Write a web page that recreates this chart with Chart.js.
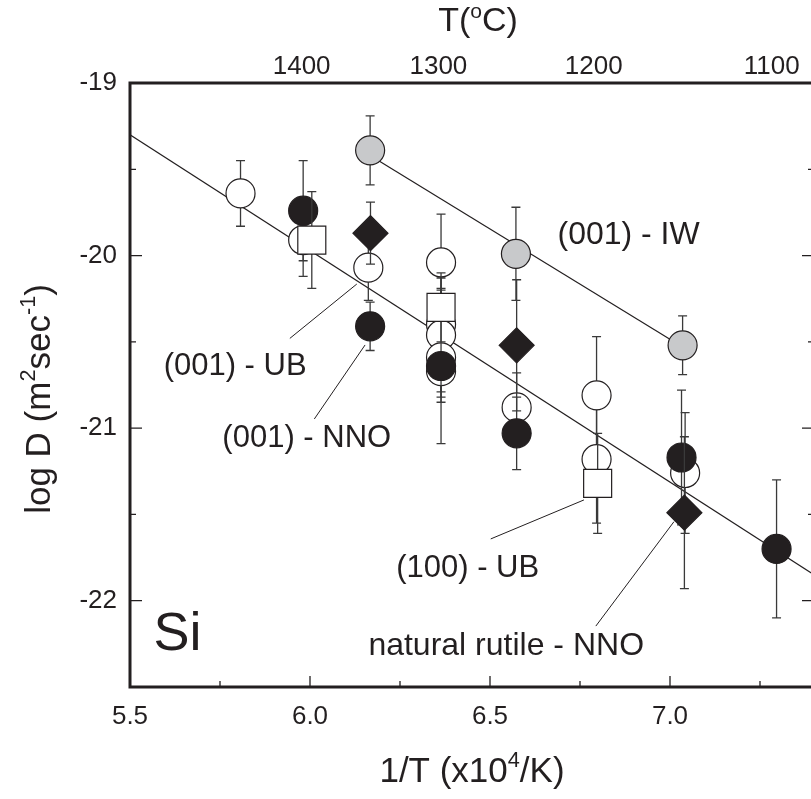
<!DOCTYPE html>
<html>
<head>
<meta charset="utf-8">
<script src="https://cdn.jsdelivr.net/npm/chart.js@4"></script>
<style>
html, body { margin: 0; padding: 0; overflow: hidden; background: #fff; }
</style>
</head>
<body>
<canvas id="myChart" width="840" height="799" style="display:block;width:840px;height:799px"></canvas>
<script>
// (001) - UB : open circles
const ubX = [5.807, 5.981, 6.162, 6.364, 6.364, 6.364, 6.364, 6.364, 6.574, 6.796, 6.796, 7.042];
const ubY = [-19.64, -19.91, -20.07, -20.04, -20.40, -20.46, -20.59, -20.67, -20.88, -20.81, -21.18, -21.26];
const ubErr = [0.19, 0.21, 0.19, 0.28, 0.20, 0.33, 0.26, 0.15, 0.20, 0.34, 0.37, 0.35];

// (001) - NNO : black circles
const nnoX = [5.981, 6.167, 6.364, 6.574, 7.032, 7.296];
const nnoY = [-19.74, -20.41, -20.64, -21.03, -21.17, -21.70];
const nnoErr = [0.29, 0.14, 0.45, 0.21, 0.39, 0.40];

// (001) - IW : grey circles
const iwX = [6.167, 6.572, 7.035];
const iwY = [-19.39, -19.99, -20.52];
const iwErr = [0.20, 0.27, 0.17];

// (100) - UB : open squares
const ub100X = [6.005, 6.364, 6.799];
const ub100Y = [-19.91, -20.30, -21.32];
const ub100Err = [0.28, 0.20, 0.29];

// natural rutile - NNO : black diamonds
const natX = [6.168, 6.574, 7.040];
const natY = [-19.87, -20.52, -21.49];
const natErr = [0.18, 0.38, 0.44];

// fitted lines
const fitAllX = [5.5, 7.4];
const fitAllY = [-19.30, -21.85];
const fitIwX = [6.167, 7.035];
const fitIwY = [-19.42, -20.53];

// leader lines from labels to points
const leaderX = [[5.944, 6.130], [6.012, 6.153], [6.502, 6.761], [6.794, 7.011]];
const leaderY = [[-20.48, -20.165], [-20.947, -20.518], [-21.642, -21.416], [-22.147, -21.542]];

// axes
const xTicks = [5.5, 6.0, 6.5, 7.0];
const xMinorTicks = [5.75, 6.25, 6.75, 7.25];
const yTicks = [-22, -21, -20, -19];
const yMinorTicks = [-19.5, -20.5, -21.5];
const topTicksC = [1400, 1300, 1200, 1100];

const FONT = "'Liberation Sans', Arial, Helvetica, sans-serif";
const INK = '#231f20';

const labels = [
    { text: '(001) - IW', x: 6.885, y: -19.88, size: 32 },
    { text: '(001) - UB', x: 5.792, y: -20.645, size: 31 },
    { text: '(001) - NNO', x: 5.991, y: -21.06, size: 31 },
    { text: '(100) - UB', x: 6.438, y: -21.815, size: 31 },
    { text: 'natural rutile - NNO', x: 6.545, y: -22.265, size: 32 },
    { text: 'Si', x: 5.632, y: -22.2, size: 54 }
];

const toPoints = (xs, ys) => xs.map((x, i) => ({ x: x, y: ys[i] }));

function pointSet(label, xs, ys, err, style, radius, fill, order) {
    return {
        label: label,
        data: toPoints(xs, ys),
        err: err,
        pointStyle: style,
        pointRadius: radius,
        pointHoverRadius: radius,
        backgroundColor: fill,
        borderColor: INK,
        borderWidth: 1.2,
        showLine: false,
        order: order
    };
}

function lineSet(xs, ys, width) {
    return {
        type: 'line',
        data: toPoints(xs, ys),
        borderColor: INK,
        borderWidth: width,
        pointRadius: 0,
        showLine: true,
        fill: false,
        order: 10
    };
}

const datasets = [
    lineSet(fitAllX, fitAllY, 1.2),
    lineSet(fitIwX, fitIwY, 1.2),
    pointSet('(001) - UB', ubX, ubY, ubErr, 'circle', 14.5, '#ffffff', 5),
    pointSet('(001) - NNO', nnoX, nnoY, nnoErr, 'circle', 14.5, INK, 4),
    pointSet('(001) - IW', iwX, iwY, iwErr, 'circle', 14.5, '#c8c9cb', 3),
    pointSet('(100) - UB', ub100X, ub100Y, ub100Err, 'rect', 19.8, '#ffffff', 2),
    pointSet('natural rutile - NNO', natX, natY, natErr, 'rectRot', 17.5, INK, 1)
];
leaderX.forEach((xs, i) => datasets.push(lineSet(xs, leaderY[i], 1)));

// error bars, drawn just under each series' markers
const errorBars = {
    id: 'errorBars',
    beforeDatasetDraw(chart, args) {
        const ds = chart.data.datasets[args.index];
        if (!ds.err) return;
        const ctx = chart.ctx, sx = chart.scales.x, sy = chart.scales.y;
        ctx.save();
        ctx.strokeStyle = '#3a3a3a';
        ctx.lineWidth = 1.3;
        ds.data.forEach((p, i) => {
            const px = sx.getPixelForValue(p.x);
            const top = sy.getPixelForValue(p.y + ds.err[i]);
            const bot = sy.getPixelForValue(p.y - ds.err[i]);
            ctx.beginPath();
            ctx.moveTo(px, top); ctx.lineTo(px, bot);
            ctx.moveTo(px - 4.5, top); ctx.lineTo(px + 4.5, top);
            ctx.moveTo(px - 4.5, bot); ctx.lineTo(px + 4.5, bot);
            ctx.stroke();
        });
        ctx.restore();
    }
};

function richText(ctx, parts, size) {
    let w = 0;
    parts.forEach(p => {
        ctx.font = (p.sup ? size * 0.62 : size) + 'px ' + FONT;
        p.w = ctx.measureText(p.t).width;
        w += p.w;
    });
    return w;
}

function drawRich(ctx, parts, size, cx, cy) {
    const w = richText(ctx, parts, size);
    let x = cx - w / 2;
    ctx.textAlign = 'left';
    ctx.textBaseline = 'middle';
    parts.forEach(p => {
        ctx.font = (p.sup ? size * 0.62 : size) + 'px ' + FONT;
        ctx.fillText(p.t, x, p.sup ? cy - size * 0.3 : cy);
        x += p.w;
    });
}

// frame, inward ticks, texts and titles
const decorations = {
    id: 'decorations',
    afterDatasetsDraw(chart) {
        const ctx = chart.ctx, a = chart.chartArea;
        const sx = chart.scales.x, sy = chart.scales.y;
        ctx.save();
        ctx.strokeStyle = INK;

        ctx.lineWidth = 1.3;
        ctx.beginPath();
        xTicks.concat(xMinorTicks).forEach(v => {
            const len = xTicks.includes(v) ? 11 : 6;
            const px = sx.getPixelForValue(v);
            ctx.moveTo(px, a.bottom); ctx.lineTo(px, a.bottom - len);
        });
        yTicks.concat(yMinorTicks).forEach(v => {
            const len = yTicks.includes(v) ? 12 : 6;
            const py = sy.getPixelForValue(v);
            ctx.moveTo(a.left, py); ctx.lineTo(a.left + len, py);
            ctx.moveTo(a.right, py); ctx.lineTo(a.right - len, py);
        });
        ctx.stroke();

        ctx.lineWidth = 3;
        ctx.beginPath();
        ctx.rect(a.left, a.top, a.right - a.left, a.bottom - a.top);
        ctx.stroke();

        ctx.fillStyle = INK;
        ctx.textAlign = 'center';
        ctx.textBaseline = 'middle';
        labels.forEach(l => {
            ctx.font = l.size + 'px ' + FONT;
            ctx.fillText(l.text, sx.getPixelForValue(l.x), sy.getPixelForValue(l.y));
        });

        drawRich(ctx, [{ t: '1/T (x10' }, { t: '4', sup: true }, { t: '/K)' }], 35, 472, 772);
        drawRich(ctx, [{ t: 'T(' }, { t: 'o', sup: true }, { t: 'C)' }], 34, 478, 22);

        ctx.translate(40, (a.top + a.bottom) / 2 + 14);
        ctx.rotate(-Math.PI / 2);
        drawRich(ctx, [{ t: 'log D (m' }, { t: '2', sup: true }, { t: 'sec' }, { t: '-1', sup: true }, { t: ')' }], 35, 0, 0);
        ctx.restore();
    }
};

const tickFont = { family: FONT, size: 26 };

const config = {
    type: 'scatter',
    data: { datasets: datasets },
    options: {
        responsive: false,
        animation: false,
        devicePixelRatio: 1,
        layout: { padding: { left: 0, right: 26, top: 0, bottom: 0 } },
        plugins: { legend: { display: false }, tooltip: { enabled: false } },
        scales: {
            x: {
                type: 'linear', position: 'bottom', min: 5.5, max: 7.4,
                grid: { display: false, drawTicks: false }, border: { display: false },
                afterBuildTicks: s => { s.ticks = xTicks.map(v => ({ value: v })); },
                afterFit: s => { s.height = 112; },
                ticks: { autoSkip: false, maxRotation: 0, padding: 14, color: INK, font: tickFont,
                    callback: v => v.toFixed(1) }
            },
            xTop: {
                type: 'linear', position: 'top', min: 5.5, max: 7.4,
                grid: { display: false, drawTicks: false }, border: { display: false },
                afterBuildTicks: s => { s.ticks = topTicksC.map(c => ({ value: 1e4 / (c + 273.15) })); },
                afterFit: s => { s.height = 83; },
                ticks: { autoSkip: false, maxRotation: 0, padding: 1, color: INK, font: tickFont,
                    callback: (v, i) => String(topTicksC[i]) }
            },
            y: {
                type: 'linear', position: 'left', min: -22.5, max: -19,
                grid: { display: false, drawTicks: false }, border: { display: false },
                afterBuildTicks: s => { s.ticks = yTicks.map(v => ({ value: v })); },
                afterFit: s => { s.width = 130; },
                ticks: { autoSkip: false, padding: 13, color: INK, font: tickFont,
                    callback: v => String(v) }
            }
        }
    },
    plugins: [errorBars, decorations]
};

const myChart = new Chart(document.getElementById('myChart'), config);
</script>
</body>
</html>
